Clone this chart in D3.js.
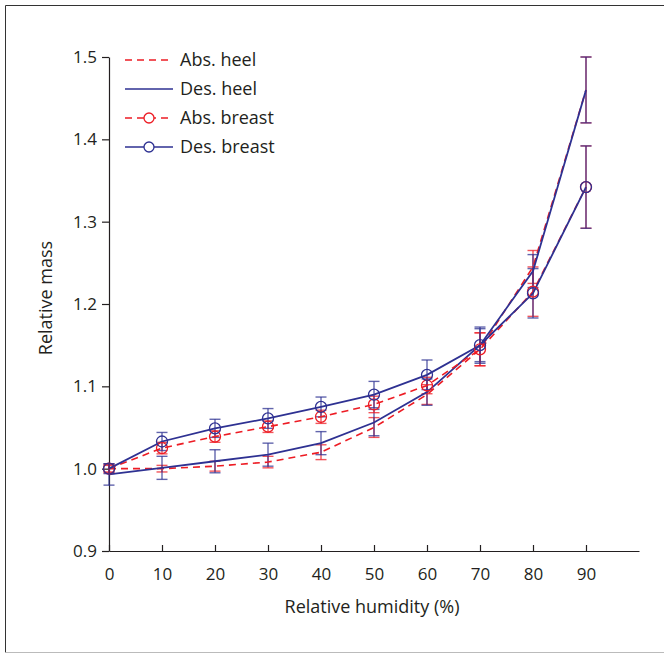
<!DOCTYPE html>
<html>
<head>
<meta charset="utf-8">
<script src="https://cdn.jsdelivr.net/npm/d3@7"></script>
<style>
  body { margin: 0; background: #fff; }
  text { font-family: "Open Sans", "Noto Sans", sans-serif; fill: #231f20; }
  .axis path, .axis line { stroke: #231f20; stroke-width: 1.2; }
  .axis text { font-size: 17px; }
</style>
</head>
<body>
<script>
// Relative humidity steps
var humidity = [0, 10, 20, 30, 40, 50, 60, 70, 80, 90];

// Heel samples (absorption / desorption)
var absHeel    = [1.000, 1.000, 1.003, 1.008, 1.020, 1.050, 1.090, 1.145, 1.245, 1.460];
var absHeelErr = [0.004, 0.004, 0.006, 0.007, 0.009, 0.012, 0.012, 0.020, 0.020, 0.040];
var desHeel    = [0.993, 1.001, 1.009, 1.017, 1.031, 1.056, 1.093, 1.150, 1.240, 1.460];
var desHeelErr = [0.013, 0.014, 0.014, 0.014, 0.014, 0.016, 0.016, 0.020, 0.020, 0.040];

// Breast samples
var absBreast    = [1.000, 1.025, 1.039, 1.051, 1.063, 1.078, 1.101, 1.145, 1.215, 1.342];
var absBreastErr = [0.005, 0.007, 0.007, 0.007, 0.008, 0.010, 0.010, 0.020, 0.030, 0.050];
var desBreast    = [1.000, 1.033, 1.049, 1.061, 1.075, 1.090, 1.114, 1.150, 1.213, 1.342];
var desBreastErr = [0.006, 0.011, 0.011, 0.012, 0.012, 0.016, 0.018, 0.022, 0.030, 0.050];

var xTicks = [0, 10, 20, 30, 40, 50, 60, 70, 80, 90];
var yTicks = [0.9, 1.0, 1.1, 1.2, 1.3, 1.4, 1.5];

var red = "#ed1c24", blue = "#2e3192";

var series = [
  {name: "Abs. heel",   vals: absHeel,   err: absHeelErr,   color: red,  dash: "7,5", circle: false},
  {name: "Des. heel",   vals: desHeel,   err: desHeelErr,   color: blue, dash: null,  circle: false},
  {name: "Abs. breast", vals: absBreast, err: absBreastErr, color: red,  dash: "7,5", circle: true},
  {name: "Des. breast", vals: desBreast, err: desBreastErr, color: blue, dash: null,  circle: true}
];

var width = 664, height = 656;

var svg = d3.select("body").append("svg")
    .attr("width", width)
    .attr("height", height);

// Frame around the figure
svg.append("line").attr("x1", 5.5).attr("y1", 5.5).attr("x2", 664).attr("y2", 5.5)
    .attr("stroke", "#333").attr("stroke-width", 1);
svg.append("line").attr("x1", 5.5).attr("y1", 5.5).attr("x2", 5.5).attr("y2", 652.5)
    .attr("stroke", "#333").attr("stroke-width", 1);
svg.append("line").attr("x1", 5.5).attr("y1", 652.5).attr("x2", 664).attr("y2", 652.5)
    .attr("stroke", "#bbb").attr("stroke-width", 1);

var xScale = d3.scaleLinear().domain([0, 100]).range([109, 639]);
var yScale = d3.scaleLinear().domain([0.9, 1.5]).range([551, 57]);

// Axes
svg.append("g")
    .attr("class", "axis")
    .attr("transform", "translate(0,551)")
    .call(d3.axisBottom(xScale).tickValues(xTicks).tickSizeInner(-6).tickSizeOuter(0).tickPadding(17));

svg.append("g")
    .attr("class", "axis")
    .attr("transform", "translate(109,0)")
    .call(d3.axisLeft(yScale).tickValues(yTicks).tickFormat(d3.format(".1f")).tickSizeInner(7).tickSizeOuter(0).tickPadding(5));

svg.selectAll(".axis text").attr("font-family", null).attr("font-size", null);

// Error bars
var cap = 5.5;
series.forEach(function(s) {
  var g = svg.append("g").attr("stroke", s.color).attr("stroke-width", 1.4).attr("stroke-opacity", 0.75);
  humidity.forEach(function(h, i) {
    var x = xScale(h), y0 = yScale(s.vals[i] - s.err[i]), y1 = yScale(s.vals[i] + s.err[i]);
    g.append("line").attr("x1", x).attr("x2", x).attr("y1", y0).attr("y2", y1);
    g.append("line").attr("x1", x - cap).attr("x2", x + cap).attr("y1", y0).attr("y2", y0);
    g.append("line").attr("x1", x - cap).attr("x2", x + cap).attr("y1", y1).attr("y2", y1);
  });
});

// Lines
var line = d3.line()
    .x(function(d) { return xScale(d[0]); })
    .y(function(d) { return yScale(d[1]); });

series.forEach(function(s) {
  svg.append("path")
      .datum(humidity.map(function(h, i) { return [h, s.vals[i]]; }))
      .attr("fill", "none")
      .attr("stroke", s.color)
      .attr("stroke-width", s.dash ? 1.6 : 1.8)
      .attr("stroke-dasharray", s.dash)
      .attr("d", line);
});

// Circles
series.filter(function(s) { return s.circle; }).forEach(function(s) {
  svg.append("g").selectAll("circle")
      .data(humidity.map(function(h, i) { return [h, s.vals[i]]; }))
      .enter().append("circle")
      .attr("cx", function(d) { return xScale(d[0]); })
      .attr("cy", function(d) { return yScale(d[1]); })
      .attr("r", 5.5)
      .attr("fill", "none")
      .attr("stroke", s.color)
      .attr("stroke-width", 1.3);
});

// Legend
var legend = svg.append("g");
series.forEach(function(s, i) {
  var y = 60 + i * 29;
  legend.append("line")
      .attr("x1", 125).attr("x2", 173).attr("y1", y).attr("y2", y)
      .attr("stroke", s.color).attr("stroke-width", 1.6)
      .attr("stroke-dasharray", s.dash);
  if (s.circle) {
    legend.append("circle").attr("cx", 149).attr("cy", y).attr("r", 5)
        .attr("fill", "#fff").attr("stroke", s.color).attr("stroke-width", 1.3);
  }
  legend.append("text")
      .attr("x", 180).attr("y", y + 6)
      .attr("font-size", 18)
      .text(s.name);
});

// Axis titles
svg.append("text")
    .attr("text-anchor", "middle")
    .attr("font-size", 18)
    .attr("transform", "translate(372,613)")
    .text("Relative humidity (%)");

svg.append("text")
    .attr("text-anchor", "middle")
    .attr("font-size", 18)
    .attr("transform", "translate(52,298)rotate(-90)")
    .text("Relative mass");
</script>
</body>
</html>
